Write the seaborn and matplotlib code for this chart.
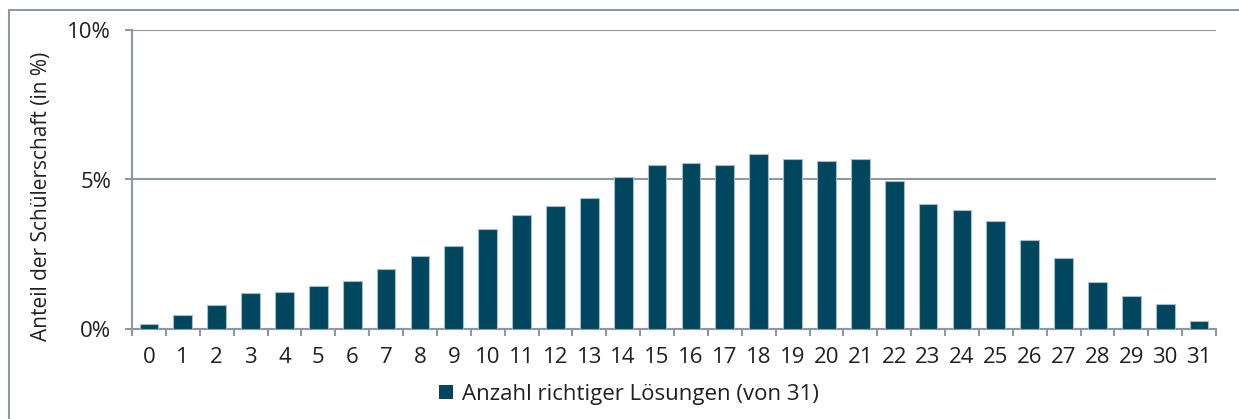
import matplotlib
matplotlib.use("Agg")
import matplotlib.pyplot as plt
from matplotlib.lines import Line2D
from matplotlib.patches import Patch
from matplotlib.ticker import FixedLocator, PercentFormatter
import seaborn as sns
import pandas as pd

categories = [str(i) for i in range(32)]
values = [0.17, 0.46, 0.79, 1.21, 1.24, 1.45, 1.61, 2.01, 2.45, 2.78,
          3.33, 3.81, 4.10, 4.39, 5.07, 5.48, 5.55, 5.47, 5.85, 5.69,
          5.62, 5.69, 4.96, 4.19, 3.98, 3.61, 2.99, 2.36, 1.58, 1.11,
          0.83, 0.27]
series_label = "Anzahl richtiger Lösungen (von 31)"
y_label = "Anteil der Schülerschaft (in %)"

sns.set_theme(style="white")
plt.rcParams['font.family'] = ['Open Sans', 'DejaVu Sans']

BAR = "#00465e"
GRID = "#8d98a2"
TXT = "#231f20"

df = pd.DataFrame({"cat": categories, "val": values})

W, H = 1239, 419
fig = plt.figure(figsize=(W / 100, H / 100), dpi=100)
ax = fig.add_axes([132 / W, 1 - 329 / H, (1216 - 132) / W, (329 - 30) / H])

sns.barplot(data=df, x="cat", y="val", order=categories, color=BAR,
            width=0.55, edgecolor="#a9bcc6", linewidth=0.8, saturation=1,
            ax=ax, zorder=3)

ax.set_xlim(-0.5, 31.5)
ax.set_ylim(0, 10)
ax.yaxis.set_major_locator(FixedLocator([0, 5, 10]))
ax.yaxis.set_major_formatter(PercentFormatter(decimals=0))
ax.grid(axis="y", color=GRID, linewidth=1.5, zorder=0)
ax.grid(axis="x", visible=False)

for s in ["top", "right"]:
    ax.spines[s].set_visible(False)
for s in ["left", "bottom"]:
    ax.spines[s].set_color(GRID)
    ax.spines[s].set_linewidth(1.5)
ax.spines["left"].set_zorder(4)

ax.set_xticks(range(32))
ax.set_xticklabels(categories)
ax.xaxis.set_minor_locator(FixedLocator([i - 0.5 for i in range(33)]))
ax.tick_params(axis="x", which="major", length=0, pad=13, labelsize=16, labelcolor=TXT)
ax.tick_params(axis="x", which="minor", length=5, width=1.5, color=GRID, direction="out", bottom=True)
ax.tick_params(axis="y", which="major", length=5, width=1.5, color=GRID, direction="out",
               left=True, pad=10, labelsize=16, labelcolor=TXT)
ax.set_xlabel("")
ax.set_ylabel("")

fig.text(42 / W, 1 - 196 / H, y_label, rotation=90, ha="center", va="center",
         fontsize=15, color=TXT)

handle = Patch(facecolor=BAR, edgecolor="none")
fig.legend([handle], [series_label], loc="center", bbox_to_anchor=(629 / W, 1 - 394 / H),
           frameon=False, fontsize=16, handlelength=0.6, handleheight=0.6,
           handletextpad=0.4, labelcolor=TXT)

# outer frame (top and left)
fig.add_artist(Line2D([9 / W, 9 / W], [0, 1 - 10 / H], transform=fig.transFigure,
                      color=GRID, linewidth=1.5))
fig.add_artist(Line2D([9 / W, 1], [1 - 10 / H, 1 - 10 / H], transform=fig.transFigure,
                      color=GRID, linewidth=1.5))

fig.savefig("out.png", dpi=100, facecolor="white")
